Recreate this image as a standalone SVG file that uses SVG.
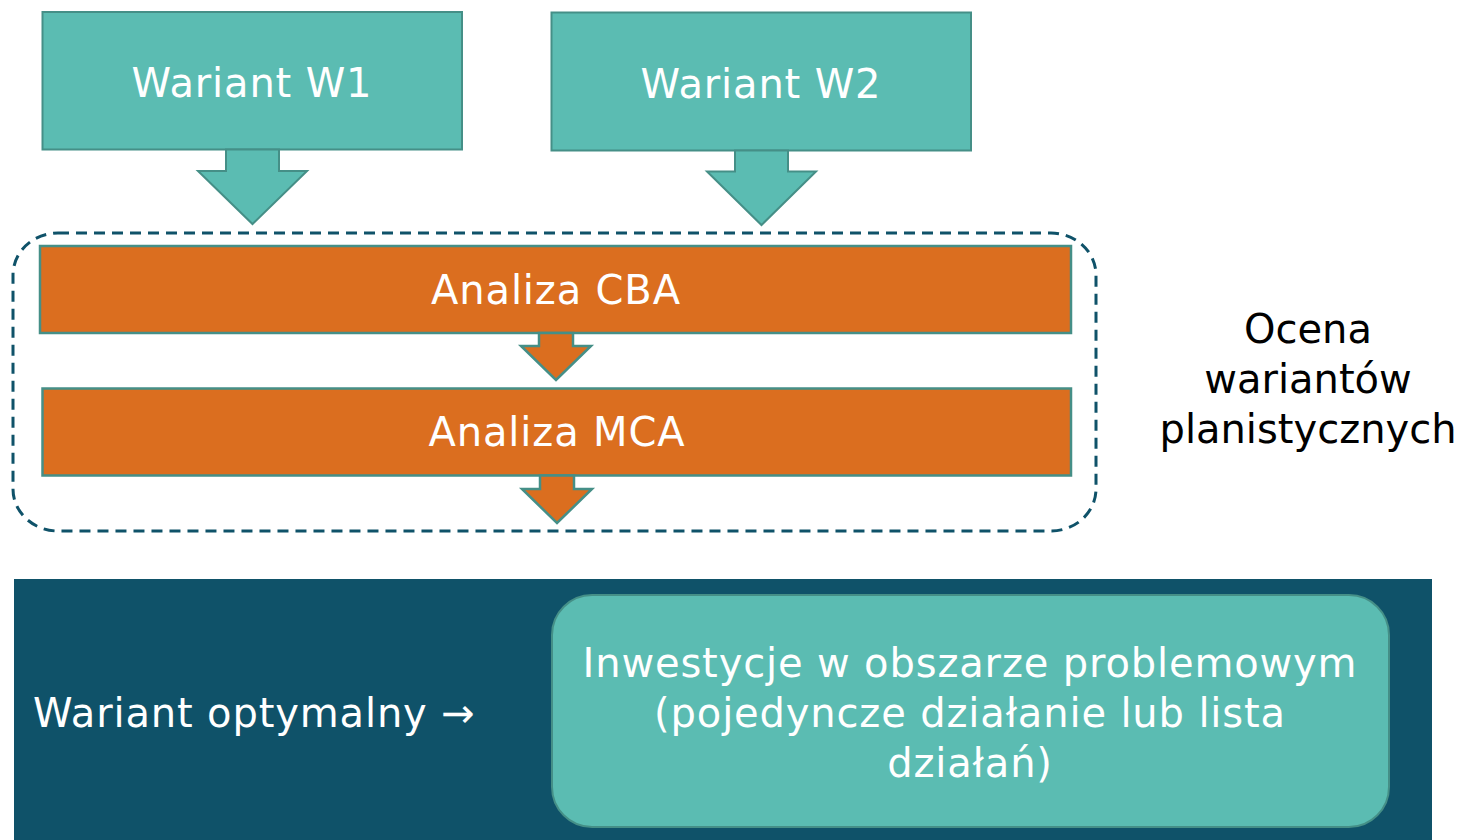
<svg xmlns="http://www.w3.org/2000/svg" width="1465" height="840" viewBox="0 0 1465 840">
  <style>
    .teal { fill: #5BBCB2; stroke: #458F87; stroke-width: 2; }
    .orange { fill: #DB6E1F; stroke: #458F87; stroke-width: 2.5; }
    .wt { font-family: "DejaVu Sans", Verdana, sans-serif; font-size: 40px; fill: #FFFFFF; text-anchor: middle; letter-spacing: 0.85px; }
    .bt { font-family: "DejaVu Sans", Verdana, sans-serif; font-size: 40px; fill: #000000; text-anchor: middle; }
  </style>
  <rect x="0" y="0" width="1465" height="840" fill="#FFFFFF"/>

  <g id="group-ocena">
    <rect x="13" y="233" width="1083" height="298" rx="45" ry="42" fill="none" stroke="#0F5269" stroke-width="3" stroke-dasharray="11 7"/>
  </g>

  <g id="node-w1">
    <rect class="teal" x="42.5" y="12" width="419.5" height="137.5"/>
    <text class="wt" x="252" y="97">Wariant W1</text>
  </g>
  <g id="node-w2">
    <rect class="teal" x="551.5" y="12.5" width="419.5" height="138"/>
    <text class="wt" x="761" y="98">Wariant W2</text>
  </g>

  <g id="node-cba">
    <rect class="orange" x="40" y="246" width="1031" height="87"/>
    <text class="wt" x="556" y="304">Analiza CBA</text>
  </g>
  <g id="node-mca">
    <rect class="orange" x="42.5" y="388.5" width="1028.5" height="87"/>
    <text class="wt" x="557" y="446">Analiza MCA</text>
  </g>

  <g id="label-ocena">
    <text class="bt" x="1308" y="343">Ocena</text>
    <text class="bt" x="1308" y="393">wariantów</text>
    <text class="bt" x="1308" y="443">planistycznych</text>
  </g>

  <g id="connectors">
    <polygon class="teal" points="226,149.5 279,149.5 279,171 307,171 252.5,224 198,171 226,171"/>
    <polygon class="teal" points="735,150.5 788,150.5 788,171.5 816,171.5 761.5,225 707,171.5 735,171.5"/>
    <polygon class="orange" points="539,333 573,333 573,346 591,346 556,380 521,346 539,346"/>
    <polygon class="orange" points="540,475.5 574,475.5 574,489 592,489 557,523 522,489 540,489"/>
  </g>

  <g id="node-optimal">
    <rect x="14" y="579" width="1418" height="261" fill="#0F5269"/>
    <text class="wt" x="33" y="727" style="text-anchor:start">Wariant optymalny →</text>
  </g>
  <g id="node-investments">
    <rect x="552" y="595" width="837" height="232" rx="40" ry="40" fill="#5BBCB2" stroke="#458F87" stroke-width="2"/>
    <text class="wt" x="970" y="677">Inwestycje w obszarze problemowym</text>
    <text class="wt" x="970" y="727">(pojedyncze działanie lub lista</text>
    <text class="wt" x="970" y="777">działań)</text>
  </g>
</svg>
